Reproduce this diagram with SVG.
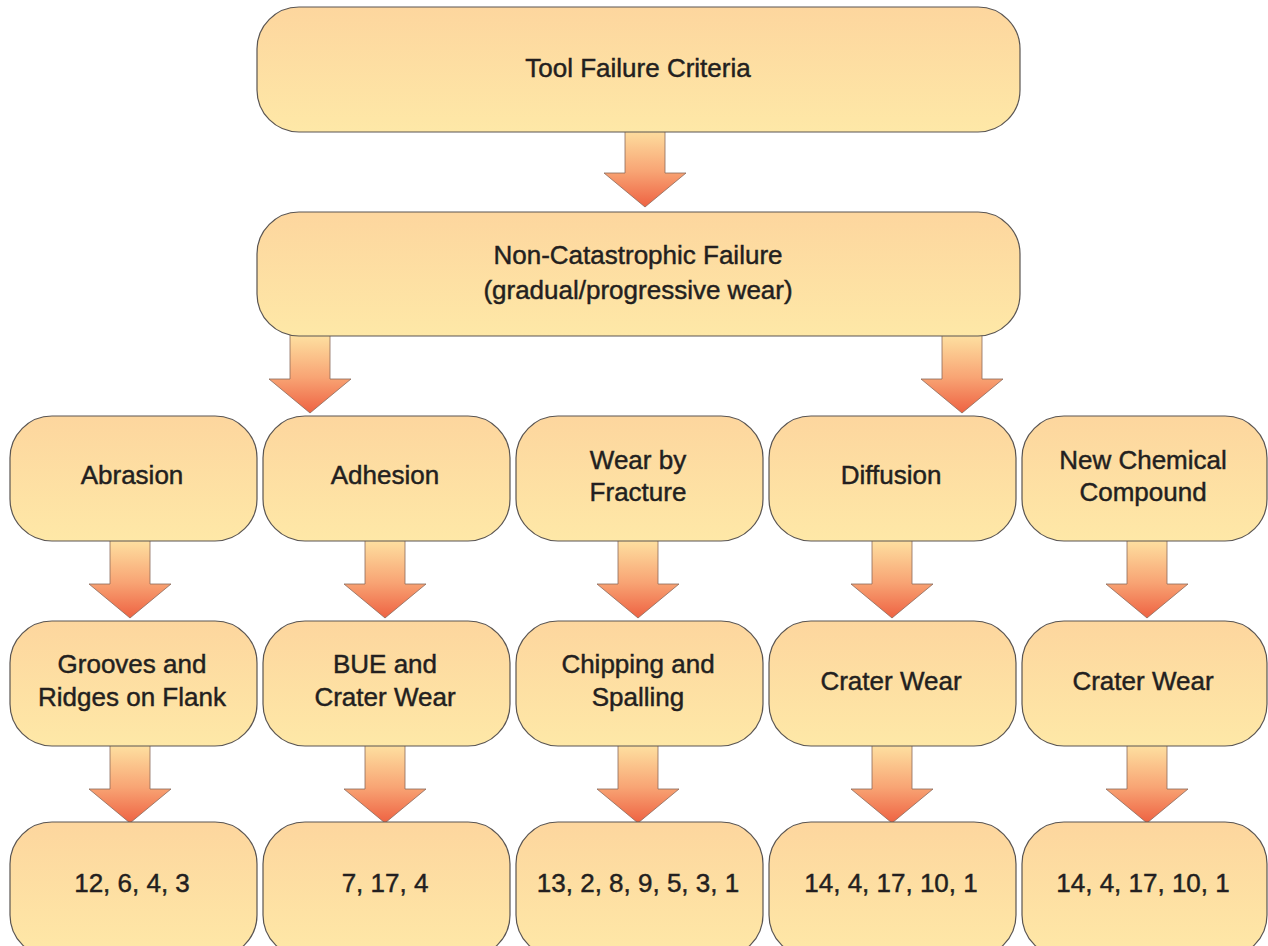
<svg xmlns="http://www.w3.org/2000/svg" xmlns:xlink="http://www.w3.org/1999/xlink" width="1268" height="946" viewBox="0 0 1268 946">
<defs>
<linearGradient id="boxg" x1="0" y1="0" x2="0" y2="1">
<stop offset="0" stop-color="#FDD69E"/>
<stop offset="1" stop-color="#FEE8A7"/>
</linearGradient>
<linearGradient id="arrg" x1="0" y1="0" x2="0" y2="1">
<stop offset="0" stop-color="#FEE2A2"/>
<stop offset="0.55" stop-color="#F8A474"/>
<stop offset="1" stop-color="#EE6242"/>
</linearGradient>
<path id="arrow" d="M-20,0 H20 V45 H41 L0,79 L-41,45 H-20 Z" fill="url(#arrg)" stroke="#8a6a5a" stroke-width="0.8"/>
<style>
.box{fill:url(#boxg);stroke:#5a5552;stroke-width:1.2}
.t{font-family:"Liberation Sans",Arial,sans-serif;font-size:26px;fill:#231f20;stroke:#231f20;stroke-width:0.45;text-anchor:middle}
</style>
</defs>
<g id="connectors">
<use xlink:href="#arrow" x="645" y="128"/>
<use xlink:href="#arrow" x="310" y="334"/>
<use xlink:href="#arrow" x="962" y="334"/>
<use xlink:href="#arrow" x="130" y="539"/>
<use xlink:href="#arrow" x="385" y="539"/>
<use xlink:href="#arrow" x="638" y="539"/>
<use xlink:href="#arrow" x="892" y="539"/>
<use xlink:href="#arrow" x="1147" y="539"/>
<use xlink:href="#arrow" x="130" y="744"/>
<use xlink:href="#arrow" x="385" y="744"/>
<use xlink:href="#arrow" x="638" y="744"/>
<use xlink:href="#arrow" x="892" y="744"/>
<use xlink:href="#arrow" x="1147" y="744"/>
</g>
<g id="n-top"><rect class="box" x="257" y="7" width="763" height="125" rx="42"/><text class="t" x="638" y="77">Tool Failure Criteria</text></g>
<g id="n-noncat"><rect class="box" x="257" y="212" width="763" height="124" rx="42"/><text class="t" x="638" y="264">Non-Catastrophic Failure</text><text class="t" x="638" y="299">(gradual/progressive wear)</text></g>
<g id="n-abrasion"><rect class="box" x="10" y="416" width="247" height="125" rx="42"/><text class="t" x="132" y="484">Abrasion</text></g>
<g id="n-adhesion"><rect class="box" x="263" y="416" width="247" height="125" rx="42"/><text class="t" x="385" y="484">Adhesion</text></g>
<g id="n-fracture"><rect class="box" x="516" y="416" width="247" height="125" rx="42"/><text class="t" x="638" y="469">Wear by</text><text class="t" x="638" y="501">Fracture</text></g>
<g id="n-diffusion"><rect class="box" x="769" y="416" width="247" height="125" rx="42"/><text class="t" x="891" y="484">Diffusion</text></g>
<g id="n-chem"><rect class="box" x="1022" y="416" width="245" height="125" rx="42"/><text class="t" x="1143" y="469">New Chemical</text><text class="t" x="1143" y="501">Compound</text></g>
<g id="n-grooves"><rect class="box" x="10" y="621" width="247" height="125" rx="42"/><text class="t" x="132" y="673">Grooves and</text><text class="t" x="132" y="706">Ridges on Flank</text></g>
<g id="n-bue"><rect class="box" x="263" y="621" width="247" height="125" rx="42"/><text class="t" x="385" y="673">BUE and</text><text class="t" x="385" y="706">Crater Wear</text></g>
<g id="n-chipping"><rect class="box" x="516" y="621" width="247" height="125" rx="42"/><text class="t" x="638" y="673">Chipping and</text><text class="t" x="638" y="706">Spalling</text></g>
<g id="n-crater1"><rect class="box" x="769" y="621" width="247" height="125" rx="42"/><text class="t" x="891" y="690">Crater Wear</text></g>
<g id="n-crater2"><rect class="box" x="1022" y="621" width="245" height="125" rx="42"/><text class="t" x="1143" y="690">Crater Wear</text></g>
<g id="n-ref1"><rect class="box" x="10" y="822" width="247" height="135" rx="42"/><text class="t" x="132" y="892">12, 6, 4, 3</text></g>
<g id="n-ref2"><rect class="box" x="263" y="822" width="247" height="135" rx="42"/><text class="t" x="385" y="892">7, 17, 4</text></g>
<g id="n-ref3"><rect class="box" x="516" y="822" width="247" height="135" rx="42"/><text class="t" x="638" y="892">13, 2, 8, 9, 5, 3, 1</text></g>
<g id="n-ref4"><rect class="box" x="769" y="822" width="247" height="135" rx="42"/><text class="t" x="891" y="892">14, 4, 17, 10, 1</text></g>
<g id="n-ref5"><rect class="box" x="1022" y="822" width="245" height="135" rx="42"/><text class="t" x="1143" y="892">14, 4, 17, 10, 1</text></g>
</svg>
